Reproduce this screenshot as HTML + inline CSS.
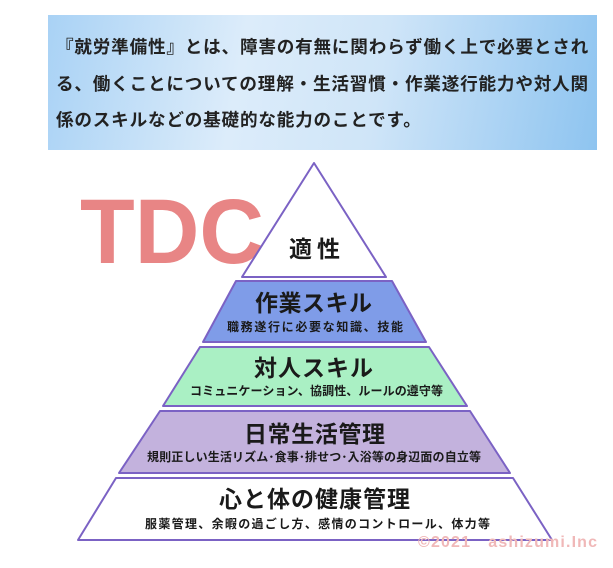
<!DOCTYPE html>
<html><head><meta charset="utf-8"><style>
body{margin:0;width:613px;height:568px;background:#fff;overflow:hidden;font-family:"Liberation Sans","Noto Sans CJK JP",sans-serif}
.box{position:absolute;left:48px;top:15px;width:549px;height:135px;background:linear-gradient(100deg,#a9d2f5 0%,#dcecfa 35%,#cfe5f8 60%,#8ec4f0 100%)}
.box p{margin:0;position:absolute;left:8px;top:14px;width:540px;font-size:17.6px;font-weight:bold;line-height:36.5px;color:#222;letter-spacing:0.8px}
svg{position:absolute;left:0;top:0}
</style></head><body>
<div class="box"><p>『就労準備性』とは、障害の有無に関わらず働く上で必要とされ<br>る、働くことについての理解・生活習慣・作業遂行能力や対人関<br>係のスキルなどの基礎的な能力のことです。</p></div>
<svg width="613" height="568" font-family="Liberation Sans, Noto Sans CJK JP, sans-serif">
<text x="80" y="263" font-size="92" font-weight="bold" fill="#e88585" textLength="184" lengthAdjust="spacingAndGlyphs">TDC</text>
<g stroke="#7b62c4" stroke-width="2" stroke-linejoin="round">
<polygon points="314,163 386,277 242,277" fill="#fff"/>
<polygon points="236,281 392,281 426,342 203,342" fill="#7f9ce8"/>
<polygon points="200,347 429,347 467,406 163,406" fill="#aaf0c4"/>
<polygon points="160,411 470,411 510,473 119,473" fill="#c3b2dd"/>
<polygon points="116,478 513,478 552,540 78,540" fill="#fff"/>
</g>
<g fill="#1a1a1a" font-weight="bold">
<text x="289" y="257" font-size="23" textLength="51">適性</text>
<text x="255" y="311" font-size="23" textLength="117">作業スキル</text>
<text x="227" y="331" font-size="12" textLength="176">職務遂行に必要な知識、技能</text>
<text x="254" y="376" font-size="23" textLength="119">対人スキル</text>
<text x="190" y="395" font-size="12" textLength="253">コミュニケーション、協調性、ルールの遵守等</text>
<text x="244" y="442" font-size="23" textLength="141">日常生活管理</text>
<text x="147" y="461" font-size="12" textLength="334">規則正しい生活リズム･食事･排せつ･入浴等の身辺面の自立等</text>
<text x="219" y="507" font-size="23" textLength="191">心と体の健康管理</text>
<text x="145" y="528" font-size="12" textLength="345">服薬管理、余暇の過ごし方、感情のコントロール、体力等</text>
</g>
<text x="418" y="547" font-size="16" font-weight="bold" fill="#f0b8b8" textLength="179">©2021　ashizumi.Inc</text>
</svg>
</body></html>
